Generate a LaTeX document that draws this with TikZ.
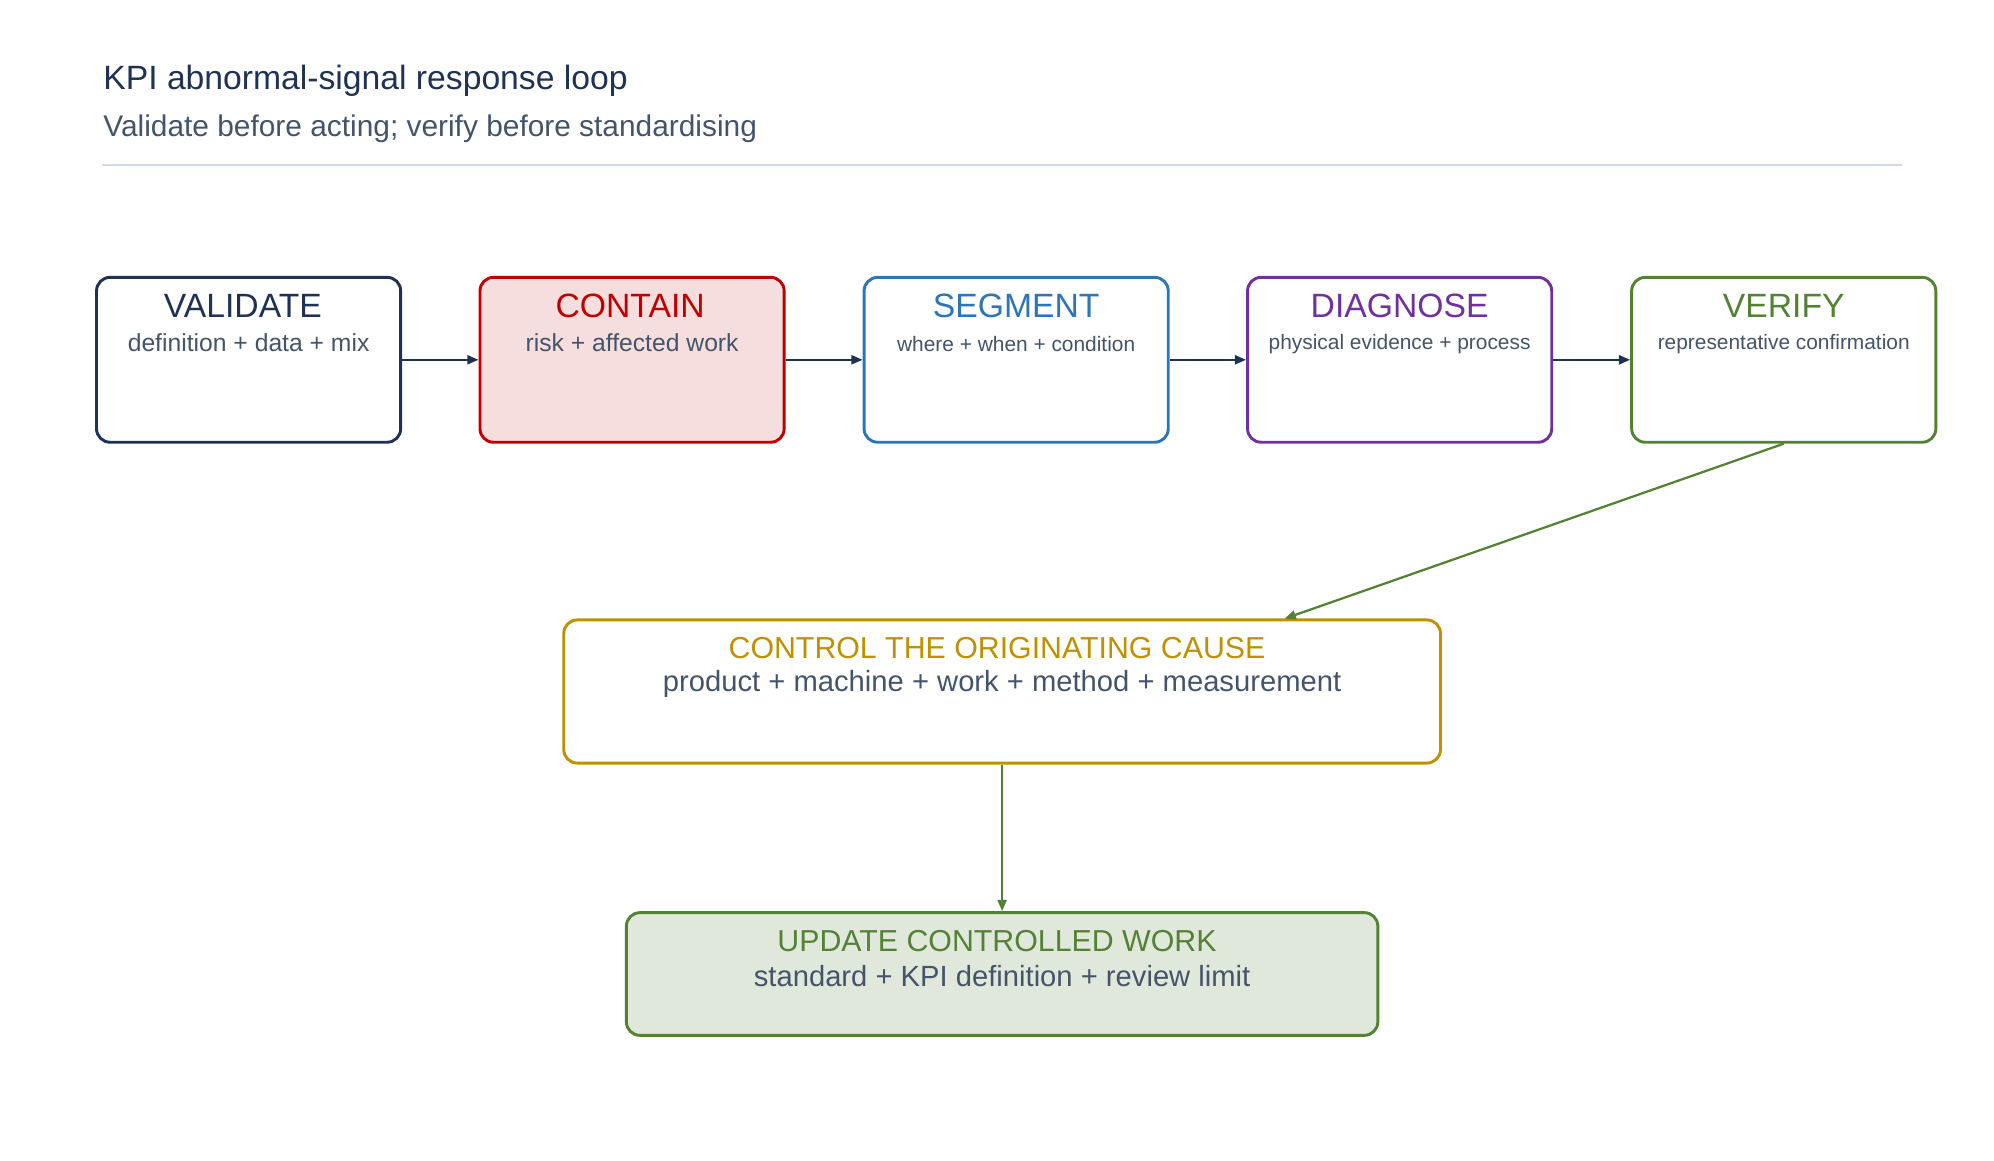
\documentclass[tikz,border=0pt]{standalone}
\usepackage{fontspec}
\setmainfont{Liberation Sans}
\usetikzlibrary{positioning,arrows.meta}
\definecolor{mynavy}{RGB}{31,50,84}
\definecolor{myred}{RGB}{192,0,0}
\definecolor{myblue}{RGB}{46,117,182}
\definecolor{mypurple}{RGB}{112,48,160}
\definecolor{mygreen}{RGB}{84,130,53}
\definecolor{mygold}{RGB}{191,144,0}
\definecolor{mygray}{RGB}{68,84,106}
\definecolor{myrule}{RGB}{210,216,240}
\begin{document}
\begin{tikzpicture}[x=0.02cm,y=-0.02cm,
  box/.style={draw,line width=1.3pt,rounded corners=6pt,fill=white},
  stagebox/.style={box,minimum width=4.76cm,minimum height=2.58cm},
  head/.style={font=\fontsize{15}{18}\selectfont,anchor=center},
  sub/.style={font=\fontsize{11}{13}\selectfont,text=mygray,anchor=center},
  >={Triangle[length=5pt,width=4pt]},->,line width=1pt
]
\useasboundingbox (0,0) rectangle (1560,908);
% title
\node[anchor=west,inner sep=0pt,text=mynavy,font=\fontsize{15}{18}\selectfont] (title) at (80,63) {KPI abnormal-signal response loop};
\node[anchor=west,inner sep=0pt,text=mygray,font=\fontsize{13.3}{16}\selectfont] (subtitle) at (80,101) {Validate before acting; verify before standardising};
\draw[-,myrule,line width=1pt] (80,129) -- (1488,129);

% the five steps
\node[stagebox,draw=mynavy] (val) at (194.5,281.5) {};
\node[stagebox,draw=myred,fill=myred!13!white] (con) at (494.5,281.5) {};
\node[stagebox,draw=myblue] (seg) at (795,281.5) {};
\node[stagebox,draw=mypurple] (dia) at (1095,281.5) {};
\node[stagebox,draw=mygreen] (ver) at (1395.5,281.5) {};
\node[head,text=mynavy] at (190,239) {VALIDATE};
\node[sub] at (194.5,268) {definition + data + mix};
\node[head,text=myred] at (493,239) {CONTAIN};
\node[sub] at (494.5,268) {risk + affected work};
\node[head,text=myblue] at (795,239) {SEGMENT};
\node[sub,font=\fontsize{9.3}{11}\selectfont] at (795,269) {where + when + condition};
\node[head,text=mypurple] at (1095,239) {DIAGNOSE};
\node[sub,font=\fontsize{9.3}{11}\selectfont] at (1095,269) {physical evidence + process};
\node[head,text=mygreen] at (1395.5,239) {VERIFY};
\node[sub,font=\fontsize{9.3}{11}\selectfont] at (1395.5,269) {representative confirmation};

% control and update
\node[box,draw=mygold,minimum width=13.72cm,minimum height=2.24cm] (ctl) at (784,541) {};
\node[head,text=mygold,font=\fontsize{13.5}{16}\selectfont] at (780,507) {CONTROL THE ORIGINATING CAUSE};
\node[sub,font=\fontsize{13}{15}\selectfont] at (784,535) {product + machine + work + method + measurement};
\node[box,draw=mygreen,fill=mygreen!18!white,minimum width=11.76cm,minimum height=1.92cm] (upd) at (784,762) {};
\node[head,text=mygreen,font=\fontsize{13.5}{16}\selectfont] at (780,736) {UPDATE CONTROLLED WORK};
\node[sub,font=\fontsize{13}{15}\selectfont] at (784,764) {standard + KPI definition + review limit};

% the edges
\draw[mynavy] (val) -- (con);
\draw[mynavy] (con) -- (seg);
\draw[mynavy] (seg) -- (dia);
\draw[mynavy] (dia) -- (ver);
\draw[mygreen] (ver.south) -- (1005,484);
\draw[mygreen] (ctl) -- (upd);
\end{tikzpicture}
\end{document}
